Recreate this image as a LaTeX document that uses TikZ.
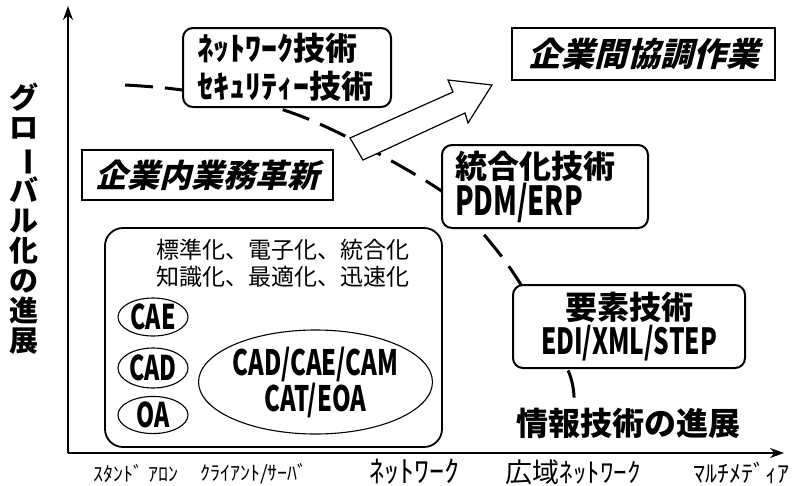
\documentclass[tikz,border=0pt]{standalone}
\usepackage{fontspec}
\usepackage{graphicx}
\setmainfont{Noto Sans CJK JP}
\newfontfamily\jp{Noto Sans CJK JP}
\newfontfamily\lat[FakeStretch=0.68]{Noto Sans CJK JP}
\newfontfamily\jpsl[FakeSlant=0.25]{Noto Sans CJK JP}
\newcommand{\fs}[2]{\fontsize{#1}{#2}\selectfont}
\usetikzlibrary{arrows.meta,shapes.geometric}
\tikzset{
  rbox/.style={draw, line width=2pt, rounded corners=10pt, fill=white, inner sep=0pt},
  sbox/.style={draw, line width=1.8pt, fill=white, inner sep=0pt},
  ell/.style={draw, ellipse, line width=1.1pt, fill=white, inner sep=0pt},
  axis/.style={line width=1.8pt, -{Stealth[length=14pt,width=10pt]}},
  trend/.style={line width=3pt, dash pattern=on 28pt off 12pt},
  lbl/.style={inner sep=0pt}
}
\begin{document}
\begin{tikzpicture}[x=1pt,y=-1pt]
\useasboundingbox (0,0) rectangle (798,485);
% axes
\coordinate (O) at (68,453);
\coordinate (ytop) at (68,6);
\coordinate (xend) at (784,453);
\draw[axis] (O) -- (ytop);
\draw[axis] (O) -- (xend);
% trend curve
\coordinate (t1) at (125,85);
\coordinate (t2) at (182,90);
\coordinate (t3) at (277,108);
\coordinate (t4) at (347,137);
\coordinate (t5) at (440,190);
\coordinate (t6) at (480,230);
\coordinate (t7) at (518,280);
\coordinate (t8) at (567,368);
\coordinate (t9) at (574,399);
\draw[trend] plot[smooth, tension=0.5] coordinates {(t1) (t2) (t3) (t4) (t5) (t6) (t7) (t8) (t9)};
% big arrow
\draw[line width=1.2pt, fill=white] (350,138) -- (453,92) -- (448,80) -- (492,85) -- (468,123) -- (465,113) -- (363,160) -- cycle;
% boxes
\node[rbox, minimum width=208pt, minimum height=79pt, text width=180pt, align=left, font={\bfseries\fs{32}{38}}] (net) at (287,67.5)
  {ﾈｯﾄﾜｰｸ技術\\ｾｷｭﾘﾃｨｰ技術};
\node[sbox, minimum width=263pt, minimum height=52pt, font={\jpsl\bfseries\fs{33}{36}}] (kan) at (643.5,54)
  {企業間協調作業};
\node[sbox, minimum width=251pt, minimum height=50pt, font={\jpsl\bfseries\fs{32}{36}}] (nai) at (207.5,175)
  {企業内業務革新};
\node[rbox, minimum width=206pt, minimum height=83pt, text width=180pt, align=left, font={\bfseries\fs{32}{37}}] (togo) at (545,186.5)
  {統合化技術\\{\lat\fs{40}{37}PDM/ERP}};
\node[rbox, minimum width=232pt, minimum height=83pt, align=center, font={\bfseries\fs{32}{35}}] (yoso) at (629,326.5)
  {要素技術\\{\lat\fs{36}{35}EDI/XML/STEP}};
% big rounded box
\node[draw, line width=1.8pt, rounded corners=18pt, minimum width=337pt, minimum height=219pt] (big) at (273.5,337.5) {};
\node[lbl, align=center, font={\fs{23}{27}}] (std) at (283,263) {標準化、電子化、統合化\\知識化、最適化、迅速化};
\node[ell, minimum width=70pt, minimum height=38pt, font={\lat\bfseries\fs{34}{34}}] (cae) at (153,317) {CAE};
\node[ell, minimum width=70pt, minimum height=40pt, font={\lat\bfseries\fs{34}{34}}] (cad) at (153,368) {CAD};
\node[ell, minimum width=70pt, minimum height=36pt, font={\lat\bfseries\fs{34}{34}}] (oa) at (153,415) {OA};
\node[ell, minimum width=225pt, minimum height=104pt, align=center, font={\lat\bfseries\fs{35}{36}}] (cadall) at (315.5,382)
  {CAD/CAE/CAM\\CAT/EOA};
% labels
\node[lbl, font={\bfseries\fs{32}{32}}] (joho) at (628,423) {情報技術の進展};
\node[lbl, align=center, font={\bfseries\fs{29}{30}}] (glob) at (24,219)
  {グ\\ロ\\\rotatebox[origin=c]{-90}{ー}\\バ\\ル\\化\\の\\進\\展};
% x labels
\node[lbl, font={\fs{20}{20}}] (x1) at (136,474) {ｽﾀﾝﾄﾞ ｱﾛﾝ};
\node[lbl, font={\fs{20}{20}}] (x2) at (254,474) {ｸﾗｲｱﾝﾄ/ｻｰﾊﾞ};
\node[lbl, font={\fs{30}{30}}] (x3) at (414,472) {ﾈｯﾄﾜｰｸ};
\node[lbl, font={\fs{27}{27}}] (x4) at (573,472) {広域ﾈｯﾄﾜｰｸ};
\node[lbl, font={\fs{24}{24}}] (x5) at (741,473) {ﾏﾙﾁﾒﾃﾞｨｱ};
\end{tikzpicture}
\end{document}
